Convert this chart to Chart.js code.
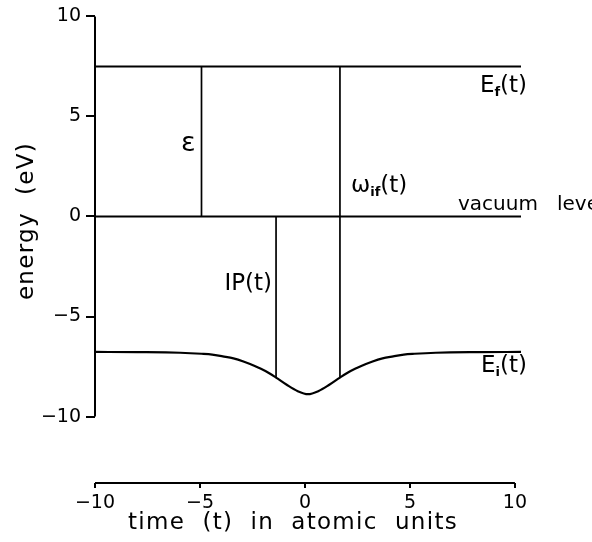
<!DOCTYPE html>
<html>
<head>
<meta charset="utf-8">
<script src="https://cdn.jsdelivr.net/npm/chart.js@4"></script>
<style>
  html, body { margin: 0; padding: 0; background: #fff; }
  canvas { display: block; }
</style>
</head>
<body>
<canvas id="energyChart" width="592" height="542"></canvas>
<script>
// values
const timeValues = [-10, -8, -6, -5, -4.5, -4, -3.5, -3, -2.5, -2, -1.5, -1, -0.5, 0, 0.5, 1, 1.5, 2, 2.5, 3, 3.5, 4, 4.5, 5, 6, 8, 10];
const initialEnergy = [-6.77, -6.78, -6.81, -6.86, -6.90, -6.99, -7.09, -7.26, -7.47, -7.72, -8.05, -8.41, -8.72, -8.88, -8.72, -8.41, -8.05, -7.72, -7.47, -7.26, -7.09, -6.99, -6.90, -6.86, -6.81, -6.78, -6.77];
const finalEnergy = 7.5;
const vacuumLevel = 0;
const epsilonTime = -5;
const ipTime = -1.5;
const omegaTime = 1.5;
const xTickValues = [-10, -5, 0, 5, 10];
const yTickValues = [-10, -5, 0, 5, 10];

const tMin = timeValues[0];
const tMax = timeValues[timeValues.length - 1];
const eAt = t => initialEnergy[timeValues.indexOf(t)];
const fmt = v => v < 0 ? '\u2212' + Math.abs(v) : String(v);
const FONT = '"DejaVu Sans", sans-serif';

const seg = (x0, y0, x1, y1) => [{ x: x0, y: y0 }, { x: x1, y: y1 }];
const lineSet = (data, width) => ({
    data: data,
    borderColor: '#000',
    borderWidth: width,
    pointRadius: 0,
    fill: false
});

// draw text made of several runs (for subscripts)
function drawRuns(ctx, runs, x, y) {
    ctx.textAlign = 'left';
    ctx.textBaseline = 'alphabetic';
    runs.forEach(r => {
        ctx.font = r.font;
        ctx.fillText(r.text, x, y + (r.dy || 0));
        x += ctx.measureText(r.text).width;
    });
}

const decorations = {
    id: 'decorations',
    afterDraw(chart) {
        const ctx = chart.ctx;
        const xs = chart.scales.x, x2 = chart.scales.x2, ys = chart.scales.y;
        const area = chart.chartArea;
        ctx.save();
        ctx.strokeStyle = '#000';
        ctx.fillStyle = '#000';
        ctx.lineWidth = 2;

        // axis lines only over the tick range
        ctx.beginPath();
        ctx.moveTo(area.left, ys.getPixelForValue(yTickValues[yTickValues.length - 1]));
        ctx.lineTo(area.left, ys.getPixelForValue(yTickValues[0]));
        ctx.moveTo(x2.getPixelForValue(xTickValues[0]), area.bottom);
        ctx.lineTo(x2.getPixelForValue(xTickValues[xTickValues.length - 1]), area.bottom);
        ctx.stroke();

        // axis titles
        ctx.font = '23px ' + FONT;
        ctx.letterSpacing = '1.3px';
        ctx.textAlign = 'center';
        ctx.textBaseline = 'middle';
        ctx.fillText('time  (t)  in  atomic  units', 293, 523);
        ctx.save();
        ctx.translate(27, 221);
        ctx.rotate(-Math.PI / 2);
        ctx.fillText('energy  (eV)', 0, 0);
        ctx.restore();
        ctx.letterSpacing = '0px';

        // labels
        const big = '23px ' + FONT;
        const sub = 'bold 13px ' + FONT;
        ctx.textBaseline = 'middle';
        ctx.textAlign = 'right';
        ctx.font = '27px ' + FONT;
        ctx.fillText('\u03b5', xs.getPixelForValue(epsilonTime) - 6, ys.getPixelForValue(3.6));
        ctx.font = big;
        ctx.fillText('IP(t)', xs.getPixelForValue(ipTime) - 4, ys.getPixelForValue(-3.4));

        drawRuns(ctx, [
            { text: '\u03c9', font: big },
            { text: 'if', font: sub, dy: 4 },
            { text: '(t)', font: big }
        ], xs.getPixelForValue(omegaTime) + 11, ys.getPixelForValue(1.6) + 8);

        drawRuns(ctx, [
            { text: 'E', font: big },
            { text: 'f', font: sub, dy: 4 },
            { text: '(t)', font: big }
        ], xs.getPixelForValue(8.07), ys.getPixelForValue(6.6) + 8);

        drawRuns(ctx, [
            { text: 'E', font: big },
            { text: 'i', font: sub, dy: 4 },
            { text: '(t)', font: big }
        ], xs.getPixelForValue(8.12), ys.getPixelForValue(-7.37) + 8);

        ctx.font = '20px ' + FONT;
        ctx.textAlign = 'left';
        ctx.textBaseline = 'middle';
        ctx.fillText('vacuum   level', xs.getPixelForValue(7.04), ys.getPixelForValue(0.6));
        ctx.restore();
    }
};

const ctx = document.getElementById('energyChart').getContext('2d');
new Chart(ctx, {
    type: 'line',
    data: {
        datasets: [
            Object.assign(lineSet(timeValues.map((t, i) => ({ x: t, y: initialEnergy[i] })), 2.2), { cubicInterpolationMode: 'monotone' }),
            lineSet(seg(tMin, finalEnergy, tMax, finalEnergy), 2),
            lineSet(seg(tMin, vacuumLevel, tMax, vacuumLevel), 2),
            lineSet(seg(epsilonTime, vacuumLevel, epsilonTime, finalEnergy), 1.7),
            lineSet(seg(ipTime, eAt(ipTime), ipTime, vacuumLevel), 1.7),
            lineSet(seg(omegaTime, eAt(omegaTime), omegaTime, finalEnergy), 1.7)
        ]
    },
    options: {
        responsive: false,
        animation: false,
        layout: { padding: { top: 13, right: 71, bottom: 0, left: 0 } },
        plugins: {
            legend: { display: false },
            tooltip: { enabled: false }
        },
        scales: {
            x: { type: 'linear', min: -10, max: 10, display: false },
            x2: {
                type: 'linear',
                position: 'bottom',
                min: -10,
                max: 10.29,
                afterBuildTicks: s => { s.ticks = xTickValues.map(v => ({ value: v })); },
                afterFit: s => { s.height = 59; },
                border: { display: false },
                grid: { drawOnChartArea: false, color: '#000', lineWidth: 2, tickLength: 5 },
                ticks: {
                    color: '#000',
                    font: { family: 'DejaVu Sans', size: 19 },
                    padding: 4,
                    maxRotation: 0,
                    autoSkip: false,
                    callback: v => fmt(v)
                }
            },
            y: {
                type: 'linear',
                position: 'left',
                min: -13.32,
                max: 10,
                afterBuildTicks: s => { s.ticks = yTickValues.map(v => ({ value: v })); },
                afterFit: s => { s.width = 95; },
                border: { display: false },
                grid: { drawOnChartArea: false, color: '#000', lineWidth: 2, tickLength: 9 },
                ticks: {
                    color: '#000',
                    font: { family: 'DejaVu Sans', size: 19 },
                    padding: 5,
                    autoSkip: false,
                    callback: v => fmt(v)
                }
            }
        }
    },
    plugins: [decorations]
});
</script>
</body>
</html>
